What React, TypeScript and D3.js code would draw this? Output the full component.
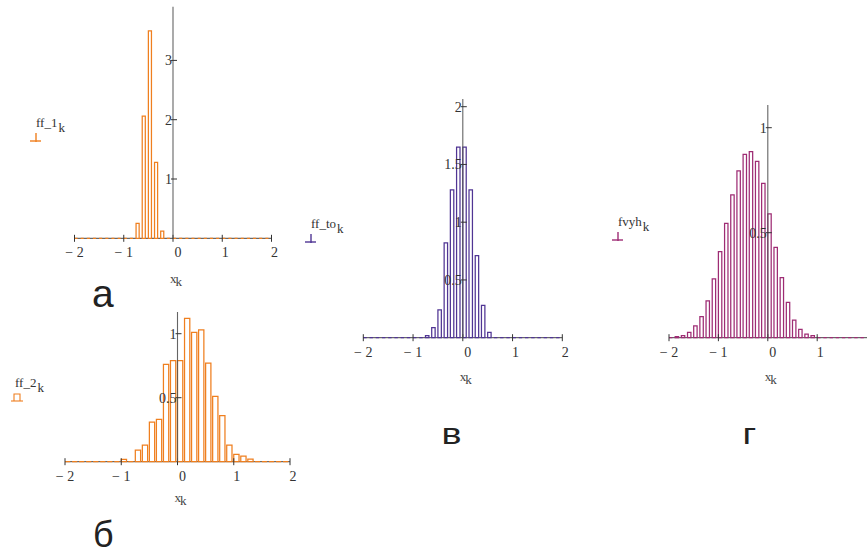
import React from "react";
import * as d3 from "d3";

// Histogram bins: 32 bins of width 0.125 starting at -2
const binStart = -2;
const binWidth = 0.125;
const xTickValues = [-2, -1, 0, 1, 2];

// panel а: ff_1
const ff1 = [
  0, 0, 0, 0, 0, 0, 0, 0, 0, 0,
  0.25, 2.06, 3.5, 1.28, 0.12,
  0, 0, 0, 0, 0, 0, 0, 0, 0, 0, 0, 0, 0, 0, 0, 0, 0,
];
// panel б: ff_2
const ff2 = [
  0, 0, 0, 0, 0, 0, 0, 0,
  0.018, 0, 0.09, 0.13, 0.31, 0.33, 0.76, 0.79, 0.79, 1.12, 1.01, 1.03,
  0.77, 0.51, 0.36, 0.13, 0.057, 0.044, 0.02,
  0, 0, 0, 0, 0,
];
// panel в: ff_to
const ffTo = [
  0, 0, 0, 0, 0, 0, 0, 0, 0, 0,
  0.017, 0.087, 0.24, 0.82, 1.28, 1.65, 1.65, 1.28, 0.71, 0.28, 0.046,
  0, 0, 0, 0, 0, 0, 0, 0, 0, 0, 0,
];
// panel г: fvyh
const fvyh = [
  0, 0.005, 0.01, 0.025, 0.056, 0.1, 0.175, 0.28, 0.41, 0.545, 0.68, 0.795,
  0.873, 0.886, 0.84, 0.735, 0.59, 0.43, 0.286, 0.168, 0.084, 0.04, 0.017, 0.01,
  0, 0, 0, 0, 0, 0, 0, 0,
];

const yTicksA = [1, 2, 3];
const yTicksB = [0.5, 1];
const yTicksV = [0.5, 1, 1.5, 2];
const yTicksG = [0.5, 1];

const ORANGE = "#ef7f1f";
const PURPLE = "#503594";
const MAGENTA = "#9e2c74";
const SERIF = "'Liberation Serif', 'DejaVu Serif', serif";
const SANS = "'Liberation Sans', Arial, sans-serif";

type PanelProps = {
  values: number[];
  color: string;
  xRange: [number, number];
  base: number;
  unitY: number;
  yAxisTop: number;
  yTicks: number[];
  xTicks: number[];
  axisEnd?: number;
  barFrac: number;
  labelY: number;
};

function fmt(v: number) {
  return v < 0 ? "\u2212 " + Math.abs(v) : String(v);
}

function Panel(p: PanelProps) {
  const x = d3.scaleLinear().domain([-2, 2]).range(p.xRange);
  const y = d3.scaleLinear().domain([0, 1]).range([p.base, p.base - p.unitY]);
  const x0 = x(0);
  const bw = (x(binWidth) - x(0)) * p.barFrac;
  const axisEnd = p.axisEnd ?? x(2);
  return (
    <g>
      <line x1={x(-2)} x2={axisEnd} y1={p.base} y2={p.base} stroke="#444" strokeWidth={1} />
      {p.values.map((v, k) => {
        const xs = x(binStart + k * binWidth);
        const t = y(v);
        return (
          <path
            key={k}
            d={`M${xs},${p.base}V${t}H${xs + bw}V${p.base}Z`}
            fill="#fff"
            stroke={p.color}
            strokeWidth={1.25}
          />
        );
      })}
      {p.xTicks.map((t) => (
        <g key={t}>
          <line x1={x(t)} x2={x(t)} y1={p.base - 3.5} y2={p.base + 3.5} stroke="#333" strokeWidth={1} />
          <text
            x={x(t) + (t < 0 ? 0 : t === 0 ? 5 : 3)}
            y={p.base + 19}
            textAnchor="middle"
            fontFamily={SERIF}
            fontSize={14}
            fill="#333"
          >
            {fmt(t)}
          </text>
        </g>
      ))}
      <line x1={x0} x2={x0} y1={p.yAxisTop} y2={p.base} stroke="#555" strokeWidth={1.1} opacity={0.9} />
      {p.yTicks.map((t) => (
        <g key={t}>
          <line x1={x0 - 2} x2={x0 + 4} y1={y(t)} y2={y(t)} stroke="#333" strokeWidth={1} />
          <text
            x={x0 - 1}
            y={y(t) + 5}
            textAnchor="end"
            fontFamily={SERIF}
            fontSize={14}
            fill="#333"
          >
            {String(t)}
          </text>
        </g>
      ))}
      <text x={x0 - 3} y={p.labelY} fontFamily={SERIF} fontSize={13} fill="#444">
        x
        <tspan dx={-1} dy={3}>k</tspan>
      </text>
    </g>
  );
}

function Legend({ x, y, name, color, icon }: { x: number; y: number; name: string; color: string; icon: "tick" | "box" }) {
  return (
    <g>
      <text x={x} y={y} fontFamily={SERIF} fontSize={13} fill="#333">
        {name}
        <tspan dx={1} dy={5} fontSize={13}>k</tspan>
      </text>
      {icon === "tick" ? (
        <g stroke={color} strokeWidth={1.4}>
          <line x1={x - 6} x2={x + 5} y1={y + 14} y2={y + 14} />
          <line x1={x} x2={x} y1={y + 6} y2={y + 15} />
        </g>
      ) : (
        <g stroke={color} strokeWidth={1.1} fill="none">
          <line x1={x - 4} x2={x + 8} y1={y + 14} y2={y + 14} />
          <path d={`M${x - 1},${y + 14}V${y + 7}H${x + 5}V${y + 14}`} />
        </g>
      )}
    </g>
  );
}

export default function App() {
  return (
    <svg width={867} height={555} style={{ position: "absolute", left: 0, top: 0, background: "#fff" }}>
      <Panel values={ff1} color={ORANGE} xRange={[74.5, 271.5]} base={238.3} unitY={59.3}
        yAxisTop={6.7} yTicks={yTicksA} xTicks={xTickValues} barFrac={0.5} labelY={283} />
      <Panel values={ff2} color={ORANGE} xRange={[65, 290]} base={461.7} unitY={128}
        yAxisTop={312} yTicks={yTicksB} xTicks={xTickValues} barFrac={0.75} labelY={502} />
      <Panel values={ffTo} color={PURPLE} xRange={[363.3, 562.3]} base={337.7} unitY={115.5}
        yAxisTop={99} yTicks={yTicksV} xTicks={xTickValues} barFrac={0.55} labelY={381} />
      <Panel values={fvyh} color={MAGENTA} xRange={[669, 866.6]} base={337.7} unitY={210}
        yAxisTop={105} yTicks={yTicksG} xTicks={[-2, -1, 0, 1]} axisEnd={867} barFrac={0.55} labelY={381} />

      <Legend x={36} y={127} name="ff_1" color={ORANGE} icon="tick" />
      <Legend x={15} y={387} name="ff_2" color={ORANGE} icon="box" />
      <Legend x={311} y={228} name="ff_to" color={PURPLE} icon="tick" />
      <Legend x={618} y={226} name="fvyh" color={MAGENTA} icon="tick" />

      <text x={92} y={306.5} fontFamily={SANS} fontSize={39} fill="#222">а</text>
      <text x={93} y={547} fontFamily={SANS} fontSize={36} fill="#222">б</text>
      <text transform="translate(441.5,444.3) scale(1.3,1)" fontFamily={SANS} fontSize={29} fill="#222">в</text>
      <text transform="translate(742.5,444.3) scale(1.3,1)" fontFamily={SANS} fontSize={29} fill="#222">г</text>
    </svg>
  );
}
